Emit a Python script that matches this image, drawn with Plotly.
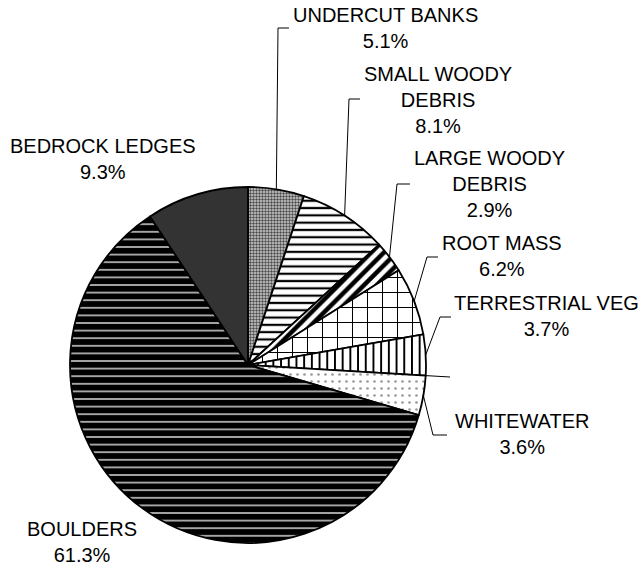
import math
import plotly.graph_objects as go

# Habitat cover composition (percent of total), clockwise from 12 o'clock
categories = ["UNDERCUT BANKS", "SMALL WOODY DEBRIS", "LARGE WOODY DEBRIS", "ROOT MASS",
              "TERRESTRIAL VEG", "", "WHITEWATER", "BOULDERS", "BEDROCK LEDGES"]
values = [5.1, 8.1, 2.9, 6.2, 3.7, 0.0, 3.6, 61.3, 9.3]
label_text = ["UNDERCUT BANKS<br>5.1%", "SMALL WOODY<br>DEBRIS<br>8.1%",
              "LARGE WOODY<br>DEBRIS<br>2.9%", "ROOT MASS<br>6.2%",
              "TERRESTRIAL VEG<br>3.7%", "", "WHITEWATER<br>3.6%",
              "BOULDERS<br>61.3%", "BEDROCK LEDGES<br>9.3%"]

# Fill styles per slice
shapes_fill = [".", "-", "/", "+", "|", "", ".", "-", ""]
fg = ["#4a4a4a", "#000000", "#000000", "#000000", "#000000", "#000000", "#9a9a9a", "#e8e8e8", "#333333"]
bg = ["#d0d0d0", "#ffffff", "#ffffff", "#ffffff", "#ffffff", "#ffffff", "#ffffff", "#000000", "#333333"]
psize = [3, 7.3, 9, 15, 7.7, 8, 7, 7.6, 8]
psolid = [0.5, 0.3, 0.5, 0.13, 0.25, 0.3, 0.12, 0.18, 0.3]

W, H = 642, 565
CX, CY, R = 248, 365, 178

# Label placement (px): text centre, leader elbow x, leader end x, leader y
label_pos = {
    "UNDERCUT BANKS": (385, 28, 278, 289, 28),
    "SMALL WOODY DEBRIS": (438, 100, 349, 360, 99),
    "LARGE WOODY DEBRIS": (489, 184, 397, 410, 184),
    "ROOT MASS": (502, 256, 427, 438, 257),
    "TERRESTRIAL VEG": (546, 316, 440, 451, 317),
    "": (None, None, None, 450, 377),
    "WHITEWATER": (522, 434, 433, 447, 435),
    "BOULDERS": (82, 542, None, None, None),
    "BEDROCK LEDGES": (103, 159, None, None, None),
}


def px(x):
    return x / W


def py(y):
    return 1 - y / H


pie_idx = [i for i, v in enumerate(values) if v > 0]
fig = go.Figure(go.Pie(
    labels=[categories[i] or "n/a" for i in pie_idx],
    values=[values[i] for i in pie_idx],
    sort=False,
    direction="clockwise",
    rotation=0,
    textinfo="none",
    hoverinfo="label+percent",
    marker=dict(
        colors=[bg[i] if shapes_fill[i] else fg[i] for i in pie_idx],
        line=dict(color="#000000", width=1.8),
        pattern=dict(
            shape=[shapes_fill[i] for i in pie_idx],
            fgcolor=[fg[i] for i in pie_idx],
            bgcolor=[bg[i] for i in pie_idx],
            size=[psize[i] for i in pie_idx],
            solidity=[psolid[i] for i in pie_idx],
            fillmode="replace",
        ),
    ),
    domain=dict(x=[px(CX - R), px(CX + R)], y=[py(CY + R), py(CY - R)]),
    showlegend=False,
))

total = sum(values)
cum = 0.0
annotations = []
shapes = []
for name, v, txt in zip(categories, values, label_text):
    if v > 0:
        mid = (cum + v / 2) / total * 2 * math.pi
    else:
        mid = cum / total * 2 * math.pi
    cum += v
    tx, ty, ex, hx, ly = label_pos[name]
    if txt:
        annotations.append(dict(
            x=px(tx), y=py(ty), xref="paper", yref="paper", text=txt,
            showarrow=False, xanchor="center", yanchor="middle", align="center",
            font=dict(family="Liberation Sans, Arial", size=20, color="#000000"),
        ))
    if hx is not None:
        sx = CX + R * math.sin(mid)
        sy = CY - R * math.cos(mid)
        if ex is None:
            path = f"M {px(sx)} {py(sy)} L {px(hx)} {py(ly)}"
        else:
            path = f"M {px(sx)} {py(sy)} L {px(ex)} {py(ly)} L {px(hx)} {py(ly)}"
        shapes.append(dict(type="path", xref="paper", yref="paper", path=path,
                           line=dict(color="#000000", width=1)))

fig.update_layout(
    width=W, height=H,
    margin=dict(l=0, r=0, t=0, b=0),
    paper_bgcolor="#ffffff",
    plot_bgcolor="#ffffff",
    annotations=annotations,
    shapes=shapes,
)

fig.write_html("out.html")
